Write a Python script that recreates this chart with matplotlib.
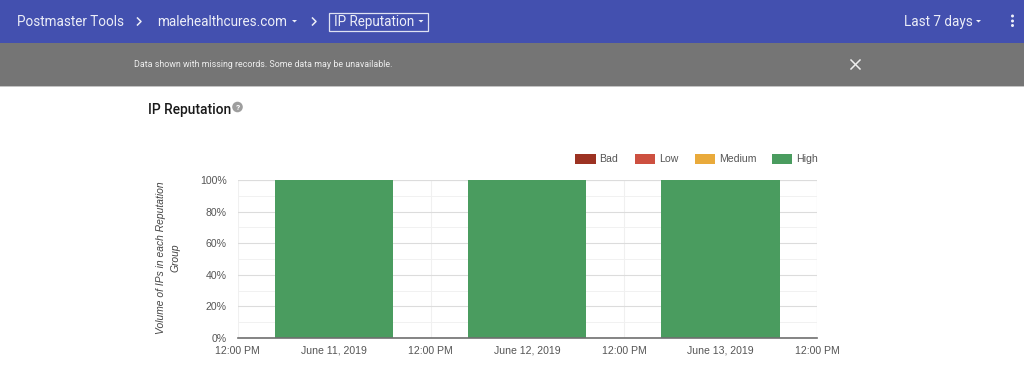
import matplotlib
matplotlib.use("Agg")
import matplotlib.pyplot as plt
from matplotlib.patches import Rectangle, Polygon, Circle

days = [0, 1, 2]
bad = [0, 0, 0]
low = [0, 0, 0]
medium = [0, 0, 0]
high = [100, 100, 100]
series_names = ["Bad", "Low", "Medium", "High"]
series_colors = ["#9c3222", "#cd5040", "#e9aa3b", "#4a9c5f"]
y_ticks = [0, 20, 40, 60, 80, 100]
y_labels = ["0%", "20%", "40%", "60%", "80%", "100%"]
x_ticks = [-0.5, 0, 0.5, 1, 1.5, 2, 2.5]
x_labels = ["12:00 PM", "June 11, 2019", "12:00 PM", "June 12, 2019",
            "12:00 PM", "June 13, 2019", "12:00 PM"]

W, H = 1024, 368
fig = plt.figure(figsize=(W / 100, H / 100), dpi=100, facecolor="white")

# page chrome, in pixel coordinates
bg = fig.add_axes([0, 0, 1, 1])
bg.set_xlim(0, W)
bg.set_ylim(H, 0)
bg.axis("off")
bg.add_patch(Rectangle((0, 0), W, 43, fc="#4350af", ec="none"))
bg.add_patch(Rectangle((0, 43), W, 43, fc="#757575", ec="none"))
bg.add_patch(Rectangle((0, 85.5), W, 1, fc="#c4c4c4", ec="none"))

HF = "Roboto"
def head(x, s, y=22.3, size=9.75, **kw):
    bg.text(x, y, s, color="#eceef8", fontsize=size, family=HF, va="center", **kw)

def caret(x, y=21):
    bg.add_patch(Polygon([(x, y - 1), (x + 5, y - 1), (x + 2.5, y + 1.5)], fc="#eceef8", ec="none"))

def chevron(x, y=21.5):
    bg.plot([x, x + 3.5, x], [y - 3.5, y, y + 3.5], color="#eceef8", lw=1.1)

head(17, "Postmaster Tools")
chevron(137.5)
head(157, "malehealthcures.com")
caret(292)
chevron(312.5)
bg.add_patch(Rectangle((328.5, 12.5), 99, 18, fc="none", ec="#dfe2f3", lw=0.9))
head(333.5, "IP Reputation")
caret(418.5)
head(903.5, "Last 7 days")
caret(976)
for y in (16, 21, 25.5):
    bg.add_patch(Circle((1012.5, y), 1.5, fc="#eceef8", ec="none"))

bg.text(134.5, 64.8, "Data shown with missing records. Some data may be unavailable.",
        color="#eeeeee", fontsize=6.4, family=HF, va="center")
bg.plot([851, 860], [60, 69], color="#eeeeee", lw=1.1)
bg.plot([851, 860], [69, 60], color="#eeeeee", lw=1.1)

bg.text(148.5, 110, "IP Reputation", color="#1a1a1a", fontsize=9.9, family=HF,
        va="center", fontweight="medium")
bg.add_patch(Circle((237.5, 107), 5.3, fc="#9e9e9e", ec="none"))
bg.text(237.5, 107.2, "?", color="white", fontsize=6, family=HF, va="center",
        ha="center", fontweight="bold")

# chart
L, R, T, B = 237.7, 817, 180, 338
ax = fig.add_axes([L / W, 1 - B / H, (R - L) / W, (B - T) / H])
ax.set_xlim(-0.5, 2.5)
ax.set_ylim(0, 100)
ax.patch.set_alpha(0)

width = 118.3 / 193.1
bottom = [0, 0, 0]
for name, vals, color in zip(series_names, [bad, low, medium, high], series_colors):
    ax.bar(days, vals, width=width, bottom=bottom, color=color, label=name, zorder=3)
    bottom = [b + v for b, v in zip(bottom, vals)]

for s in ("top", "left", "right"):
    ax.spines[s].set_visible(False)
ax.spines["bottom"].set_color("#6f6f6f")
ax.spines["bottom"].set_linewidth(1.2)
ax.spines["bottom"].set_zorder(5)

ax.set_yticks(y_ticks, y_labels, fontsize=7.6, color="#555555", family="Liberation Sans")
ax.set_xticks(x_ticks, x_labels, fontsize=7.6, color="#555555", family="Liberation Sans")
ax.tick_params(axis="both", length=0)
ax.tick_params(axis="y", pad=8)
ax.tick_params(axis="x", pad=5.6)
ax.set_yticks([10, 30, 50, 70, 90], minor=True)
ax.tick_params(axis="y", which="minor", length=0)
ax.grid(True, axis="y", which="major", color="#dcdcdc", lw=0.8, zorder=0)
ax.grid(True, axis="y", which="minor", color="#f1f1f1", lw=0.7, zorder=0)
ax.grid(True, axis="x", which="major", color="#f0f0f0", lw=0.8, zorder=0)
ax.axhline(100, color="#dcdcdc", lw=0.8, zorder=1)
ax.axvline(2.5, color="#e8e8e8", lw=0.8, zorder=1)

bg.text(161.5, 258, "Volume of IPs in each Reputation", rotation=90, ha="center", va="center",
        fontsize=7.4, style="italic", color="#444444", family="Liberation Sans")
bg.text(175.5, 258, "Group", rotation=90, ha="center", va="center",
        fontsize=7.4, style="italic", color="#444444", family="Liberation Sans")

# legend
handles, labels = ax.get_legend_handles_labels()
swatch_x = [575, 634.5, 694.5, 771.5]
for h, lab, x in zip(handles, labels, swatch_x):
    c = h.patches[0].get_facecolor()
    bg.add_patch(Rectangle((x, 153.5), 20.5, 10, fc=c, ec="none"))
    bg.text(x + 24.5, 158.7, lab, fontsize=7.6, color="#555555", family="Liberation Sans", va="center")

fig.savefig("out.png", dpi=100)
